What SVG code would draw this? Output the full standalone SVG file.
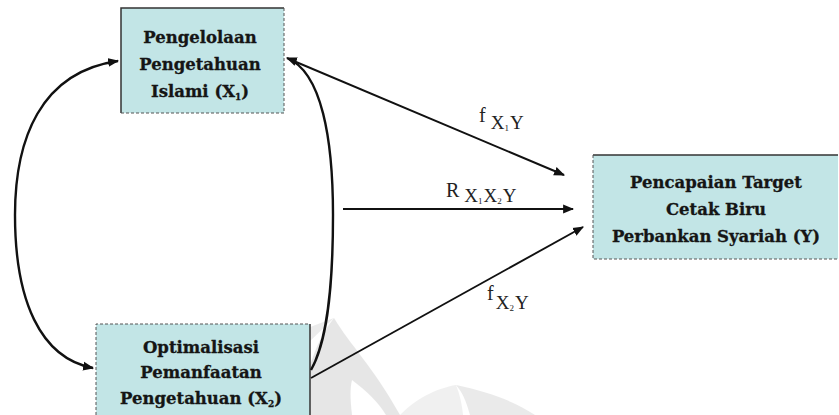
<svg xmlns="http://www.w3.org/2000/svg" width="839" height="415" viewBox="0 0 839 415">
<style>
.box{fill:#c2e5e6}
.bd{stroke:#333;stroke-width:1.5;fill:none}
.bdd{stroke:#555;stroke-width:1;fill:none;stroke-dasharray:3 2}
.nt{font-family:"DejaVu Serif","Liberation Serif",serif;font-weight:bold;font-size:16.5px;fill:#151515;text-anchor:middle;stroke:#151515;stroke-width:0.3}
.lb{font-family:"Liberation Serif","DejaVu Serif",serif;font-size:20px;fill:#222}
.sub{font-size:19px}
.ss{font-size:9px}
.c{stroke:#111;stroke-width:2.4;fill:none}
.s{stroke:#111;stroke-width:1.9;fill:none}
</style>
<defs>
<marker id="ah" viewBox="0 0 10 10" refX="9" refY="5" markerWidth="11" markerHeight="11" markerUnits="userSpaceOnUse" orient="auto-start-reverse">
<path d="M0,1 L10,5 L0,9 Z" fill="#111"/>
</marker>
</defs>
<rect width="839" height="415" fill="#fff"/>
<g id="watermark" opacity="0.5">
<path d="M300,415 C305,370 318,338 334,318 C350,345 372,365 400,415 Z" fill="#cfcfcf"/>
<path d="M352,415 C350,398 350,388 352,380 C368,392 378,402 386,415 Z" fill="#fff"/>
<path d="M456,385 C490,392 515,402 535,415 L470,415 C466,400 462,392 456,385 Z" fill="#d6d6d6"/>
<path d="M400,415 C420,395 440,388 456,385 C460,395 462,405 463,415 Z" fill="#e2e2e2"/>
<path d="M150,415 C200,380 260,345 334,318 C300,350 270,380 250,415 Z" fill="#d9d9d9"/>
</g>
<g id="x1">
<rect class="box" x="121" y="8" width="163" height="105"/>
<path class="bd" d="M121,113 V8 H284"/>
<path class="bdd" d="M284,8 V113 H121"/>
<text class="nt" x="200" y="43">Pengelolaan</text>
<text class="nt" x="200" y="70">Pengetahuan</text>
<text class="nt" x="200" y="97">Islami (X<tspan class="ss" dy="3">1</tspan><tspan dy="-3">)</tspan></text>
</g>
<g id="x2">
<rect class="box" x="96" y="324" width="214" height="91"/>
<path class="bdd" d="M96,415 V324 H310"/>
<path class="bd" d="M310,324 V415"/>
<text class="nt" x="201" y="353">Optimalisasi</text>
<text class="nt" x="201" y="378">Pemanfaatan</text>
<text class="nt" x="201" y="404">Pengetahuan (X<tspan class="ss" dy="3">2</tspan><tspan dy="-3">)</tspan></text>
</g>
<g id="y">
<rect class="box" x="593" y="155" width="245" height="104"/>
<path class="bd" d="M593,155 H838"/>
<path class="bdd" d="M593,155 V259 H838"/>
<text class="nt" x="716" y="188">Pencapaian Target</text>
<text class="nt" x="716" y="215">Cetak Biru</text>
<text class="nt" x="716" y="242">Perbankan Syariah (Y)</text>
</g>
<g id="connectors">
<path class="c" d="M93,368 C40,358 15,300 15,215 C15,140 40,72 118,61" marker-start="url(#ah)" marker-end="url(#ah)"/>
<path class="c" d="M311,370 C325,345 333,300 333,215 C333,140 322,72 287,58" marker-end="url(#ah)"/>
<path class="s" d="M289,59 L564,175" marker-end="url(#ah)"/>
<path class="s" d="M343,209 L573,209" marker-end="url(#ah)"/>
<path class="s" d="M311,378 L583,227" marker-end="url(#ah)"/>
</g>
<g id="labels">
<text class="lb" x="479" y="122">f <tspan class="sub" dy="7">X</tspan><tspan class="ss" dy="2">1</tspan><tspan class="sub" dy="-2" dx="1">Y</tspan></text>
<text class="lb" x="446" y="197">R <tspan class="sub" dy="5">X</tspan><tspan class="ss" dy="2">1</tspan><tspan class="sub" dy="-2" dx="1">X</tspan><tspan class="ss" dy="2">2</tspan><tspan class="sub" dy="-2" dx="1">Y</tspan></text>
<text class="lb" x="487" y="300">f<tspan class="sub" dy="9" dx="2">X</tspan><tspan class="ss" dy="2">2</tspan><tspan class="sub" dy="-2" dx="1">Y</tspan></text>
</g>
</svg>
